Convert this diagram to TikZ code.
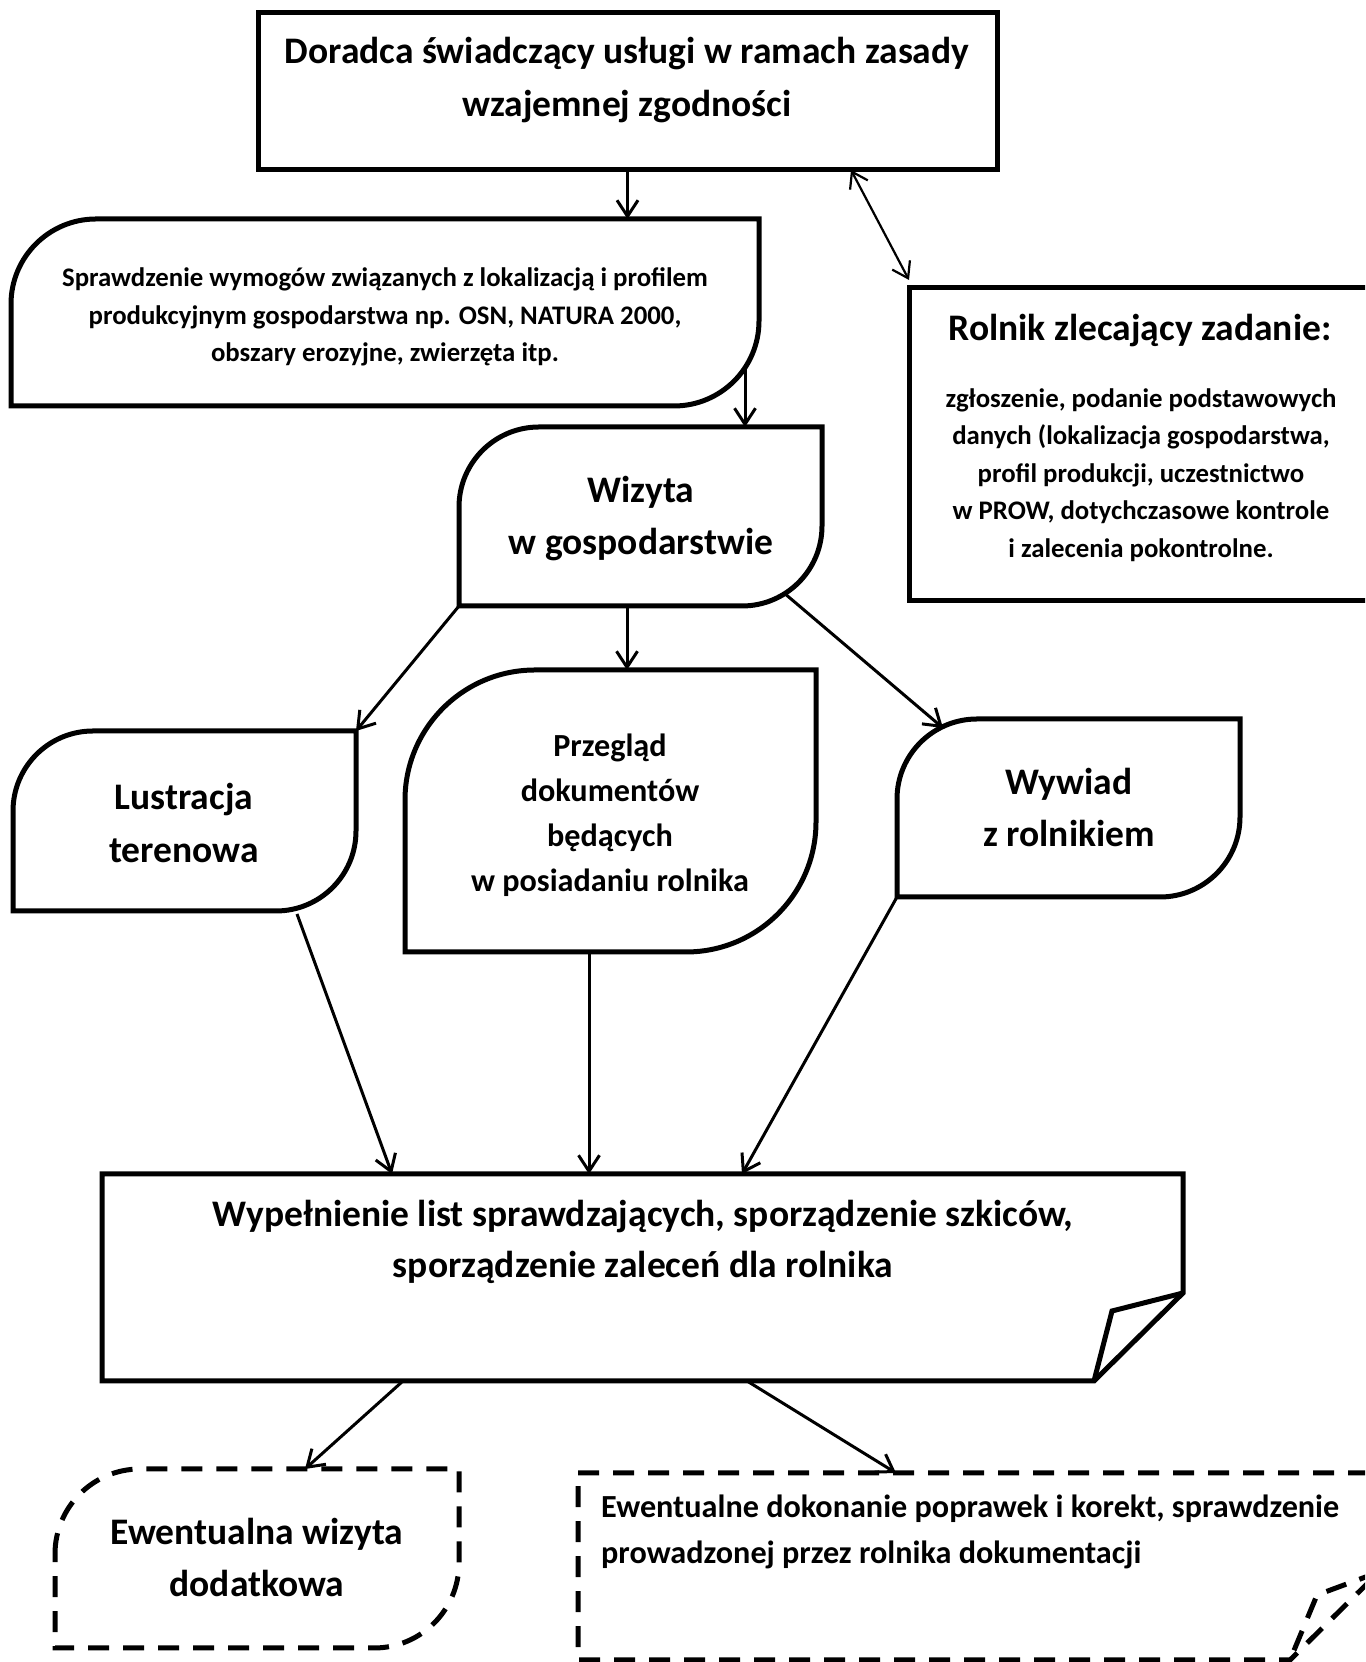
\documentclass[tikz,border=0pt]{standalone}
\usepackage{fontspec}
\setmainfont{Carlito}
\usetikzlibrary{arrows.meta}
\tikzset{
  box/.style={line width=5pt, line join=miter},
  dbox/.style={line width=5pt, dash pattern=on 21pt off 14pt},
  conn/.style={line width=3pt, -{Straight Barb[length=16pt,width=21pt,line width=3pt]}},
  dconn/.style={line width=2.2pt, {Straight Barb[length=15pt,width=20pt,line width=2.2pt]}-{Straight Barb[length=15pt,width=20pt,line width=2.2pt]}},
  txt/.style={align=center, inner sep=0},
  area/.style={inner sep=0, outer sep=0, anchor=south west, draw=none},
}
\newcommand\areanode[5]{\node[area, minimum width={(#4-#2)*1pt}, minimum height={(#5-#3)*1pt}] (#1) at (#2,#3) {};}
\newcommand\rdpath[6]{%
  \draw[#6] (#1,#4-#5) .. controls (#1,#4-0.448*#5) and (#1+0.448*#5,#4) .. (#1+#5,#4) -- (#3,#4) -- (#3,#2+#5) .. controls (#3,#2+0.448*#5) and (#3-0.448*#5,#2) .. (#3-#5,#2) -- (#1,#2) -- cycle;}
\begin{document}
\begin{tikzpicture}[x=1pt,y=1pt]
\useasboundingbox (0,0) rectangle (1365,1662);
\fill[white] (0,0) rectangle (1365,1662);
\clip (0,0) rectangle (1365,1662);

% top box
\areanode{top}{258}{1492}{997}{1649}
\draw[box] (top.south west) rectangle (top.north east);
\node[txt, font=\bfseries\fontsize{37.5}{53}\selectfont] (toptxt) at (627,1582) {Doradca świadczący usługi w ramach zasady\\wzajemnej zgodności};

% Sprawdzenie
\areanode{spr}{11}{1256}{759}{1443}
\rdpath{11}{1256}{759}{1443}{85}{box}
\node[txt, font=\bfseries\fontsize{26.8}{37.5}\selectfont] (sprtxt) at (385,1345) {Sprawdzenie wymogów związanych z lokalizacją i profilem\\produkcyjnym gospodarstwa np. OSN, NATURA 2000,\\obszary erozyjne, zwierzęta itp.};

% Wizyta
\areanode{wiz}{459}{1056}{822}{1235}
\rdpath{459}{1056}{822}{1235}{80}{box}
\node[txt, font=\bfseries\fontsize{37.5}{52}\selectfont] (wiztxt) at (641,1143) {Wizyta\\w gospodarstwie};

% Rolnik
\areanode{rol}{909}{1061}{1380}{1374}
\draw[box] (rol.south west) rectangle (rol.north east);
\node[txt, font=\bfseries\fontsize{37.5}{40}\selectfont] (roltitle) at (1140,1331) {Rolnik zlecający zadanie:};
\node[txt, font=\bfseries\fontsize{26.8}{37.5}\selectfont] (roltxt) at (1141,1187) {zgłoszenie, podanie podstawowych\\danych (lokalizacja gospodarstwa,\\profil produkcji, uczestnictwo\\w PROW, dotychczasowe kontrole\\i zalecenia pokontrolne.};

% Lustracja
\areanode{lus}{13}{751}{356}{931}
\rdpath{13}{751}{356}{931}{80}{box}
\node[txt, font=\bfseries\fontsize{37.5}{53}\selectfont] (lustxt) at (184,839) {Lustracja\\terenowa};

% Przeglad
\areanode{prz}{405}{710}{816}{992}
\rdpath{405}{710}{816}{992}{130}{box}
\node[txt, font=\bfseries\fontsize{32.2}{45}\selectfont] (prztxt) at (610,847) {Przegląd\\dokumentów\\będących\\w posiadaniu rolnika};

% Wywiad
\areanode{wyw}{897}{765}{1240}{943}
\rdpath{897}{765}{1240}{943}{80}{box}
\node[txt, font=\bfseries\fontsize{37.5}{52}\selectfont] (wywtxt) at (1069,855) {Wywiad\\z rolnikiem};

% Main folded box
\areanode{mainb}{102}{281}{1183}{488}
\draw[box] (102,488) -- (1183,488) -- (1183,369) -- (1094,281) -- (102,281) -- cycle;
\draw[box] (1183,369) -- (1112,351) -- (1094,281);
\node[txt, font=\bfseries\fontsize{37.5}{51}\selectfont] (maintxt) at (643,420) {Wypełnienie list sprawdzających, sporządzenie szkiców,\\sporządzenie zaleceń dla rolnika};

% Ewentualna wizyta (dashed)
\areanode{ewz}{55}{14}{459}{193}
\rdpath{55}{14}{459}{193}{85}{dbox}
\node[txt, font=\bfseries\fontsize{37.5}{52}\selectfont] (ewztxt) at (257,105) {Ewentualna wizyta\\dodatkowa};

% Ewentualne dokonanie (dashed, folded)
\areanode{ewd}{578}{2}{1379}{189}
\draw[dbox] (578,189) -- (1379,189) -- (1379,90) -- (1290,2) -- (578,2) -- cycle;
\draw[dbox] (1379,90) -- (1317,67) -- (1290,2);
\node[txt, align=left, anchor=west, font=\bfseries\fontsize{32.2}{46}\selectfont] (ewdtxt) at (601,130) {Ewentualne dokonanie poprawek i korekt, sprawdzenie\\prowadzonej przez rolnika dokumentacji};

% connectors
\draw[conn] (top.south) -- (top.south |- spr.north);
\coordinate (s1) at (745,1296);
\draw[conn] (s1) -- (s1 |- wiz.north);
\coordinate (d1) at (851,1492);
\coordinate (d2) at (909,1382);
\draw[dconn] (d1) -- (d2);
\draw[conn] (wiz.south west) -- (lus.north east);
\coordinate (w2) at (627,1056);
\draw[conn] (w2) -- (w2 |- prz.north);
\coordinate (w3) at (784,1069);
\coordinate (y1) at (943,934);
\draw[conn] (w3) -- (y1);
\coordinate (l1) at (297,748);
\coordinate (m1) at (392,488);
\draw[conn] (l1) -- (m1);
\coordinate (p1) at (589,710);
\draw[conn] (p1) -- (p1 |- mainb.north);
\coordinate (m3) at (742,488);
\draw[conn] (wyw.south west) -- (m3);
\coordinate (b1) at (403,281);
\coordinate (e1) at (305,193);
\draw[conn] (b1) -- (e1);
\coordinate (b2) at (747,281);
\coordinate (e2) at (896,189);
\draw[conn] (b2) -- (e2);
\end{tikzpicture}
\end{document}
